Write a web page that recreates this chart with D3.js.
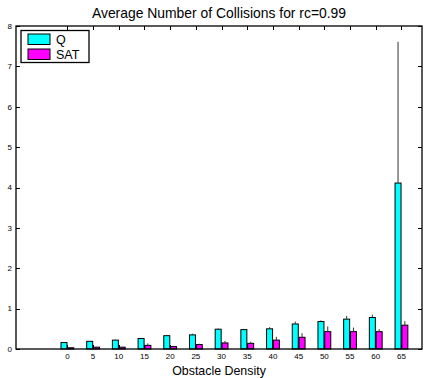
<!DOCTYPE html>
<html>
<head>
<meta charset="utf-8">
<script src="https://cdn.jsdelivr.net/npm/d3@7"></script>
<style>
  html, body { margin: 0; padding: 0; background: #fff; }
  svg { display: block; font-family: "Liberation Sans", Arial, sans-serif; }
</style>
</head>
<body>
<svg id="chart" width="428" height="378"></svg>
<script>
// Obstacle densities (categories)
const densities = [0, 5, 10, 15, 20, 25, 30, 35, 40, 45, 50, 55, 60, 65];
// Mean collisions per series
const qValues   = [0.16, 0.19, 0.22, 0.26, 0.33, 0.35, 0.49, 0.48, 0.50, 0.62, 0.68, 0.74, 0.78, 4.11];
const satValues = [0.03, 0.045, 0.045, 0.09, 0.06, 0.11, 0.15, 0.14, 0.22, 0.29, 0.43, 0.43, 0.43, 0.59];
// Upper error extents
const qErr   = [0.01, 0.01, 0.01, 0.01, 0.02, 0.03, 0.02, 0.02, 0.04, 0.06, 0.03, 0.08, 0.07, 3.50];
const satErr = [0.01, 0.01, 0.01, 0.05, 0.01, 0.02, 0.05, 0.04, 0.08, 0.10, 0.13, 0.10, 0.06, 0.10];
const yTicks = [0, 1, 2, 3, 4, 5, 6, 7, 8];
const seriesNames = ["Q", "SAT"];
const seriesColors = ["#00ffff", "#ff00ff"];

(function draw() {
  const svg = d3.select("#chart");
  const plotL = 16, plotR = 422, plotT = 26, plotB = 349;

  const x = d3.scaleLinear().domain([-10, 69]).range([plotL, plotR]);
  const y = d3.scaleLinear().domain([0, 8]).range([plotB, plotT]);

  const barW = 6, off = 3.4;
  const series = [
    { vals: qValues, errs: qErr, dx: -off, color: seriesColors[0] },
    { vals: satValues, errs: satErr, dx: off, color: seriesColors[1] }
  ];

  // Axis frame ticks (inward, mirrored)
  const tickLen = 4;
  const frame = svg.append("g").attr("stroke", "#000").attr("stroke-width", 1);
  yTicks.forEach(t => {
    const yy = Math.round(y(t)) + 0.5;
    frame.append("line").attr("x1", plotL).attr("x2", plotL + tickLen).attr("y1", yy).attr("y2", yy);
    frame.append("line").attr("x1", plotR).attr("x2", plotR - tickLen).attr("y1", yy).attr("y2", yy);
  });
  densities.forEach(d => {
    const xx = Math.round(x(d)) + 0.5;
    frame.append("line").attr("x1", xx).attr("x2", xx).attr("y1", plotT).attr("y2", plotT + tickLen);
    frame.append("line").attr("x1", xx).attr("x2", xx).attr("y1", plotB).attr("y2", plotB - tickLen);
  });

  // Bars and error bars
  series.forEach(s => {
    const g = svg.append("g");
    g.selectAll("rect").data(densities).join("rect")
      .attr("x", d => x(d) + s.dx - barW / 2)
      .attr("y", (d, i) => y(s.vals[i]))
      .attr("width", barW)
      .attr("height", (d, i) => y(0) - y(s.vals[i]))
      .attr("fill", s.color)
      .attr("stroke", "#000")
      .attr("stroke-width", 1);
    g.selectAll("line.err").data(densities).join("line")
      .attr("class", "err")
      .attr("x1", d => x(d) + s.dx).attr("x2", d => x(d) + s.dx)
      .attr("y1", (d, i) => y(s.vals[i]))
      .attr("y2", (d, i) => y(s.vals[i] + s.errs[i]))
      .attr("stroke", "#333")
      .attr("stroke-width", 1);
  });

  // Box
  svg.append("rect")
    .attr("x", plotL).attr("y", plotT)
    .attr("width", plotR - plotL).attr("height", plotB - plotT)
    .attr("fill", "none").attr("stroke", "#000").attr("stroke-width", 1.3);

  // Tick labels
  svg.append("g").selectAll("text").data(yTicks).join("text")
    .attr("x", plotL - 4).attr("y", d => y(d)).attr("dy", "0.35em")
    .attr("text-anchor", "end").attr("font-size", 8).text(d => d);
  svg.append("g").selectAll("text").data(densities).join("text")
    .attr("x", d => x(d)).attr("y", 358.5)
    .attr("text-anchor", "middle").attr("font-size", 8).text(d => d);

  // Title and axis label
  svg.append("text").attr("x", (plotL + plotR) / 2).attr("y", 18)
    .attr("text-anchor", "middle").attr("font-size", 13.9)
    .text("Average Number of Collisions for rc=0.99");
  svg.append("text").attr("x", (plotL + plotR) / 2).attr("y", 374.5)
    .attr("text-anchor", "middle").attr("font-size", 12.4)
    .text("Obstacle Density");

  // Legend
  const lg = svg.append("g");
  lg.append("rect").attr("x", 21).attr("y", 30.5).attr("width", 68).attr("height", 32)
    .attr("fill", "#fff").attr("stroke", "#000").attr("stroke-width", 1.3);
  seriesNames.forEach((name, i) => {
    const yy = 34 + i * 15;
    lg.append("rect").attr("x", 28).attr("y", yy).attr("width", 22).attr("height", 10.5)
      .attr("fill", seriesColors[i]).attr("stroke", "#000").attr("stroke-width", 1);
    lg.append("text").attr("x", 56).attr("y", yy + 10).attr("font-size", 12.5).text(name);
  });
})();
</script>
</body>
</html>
